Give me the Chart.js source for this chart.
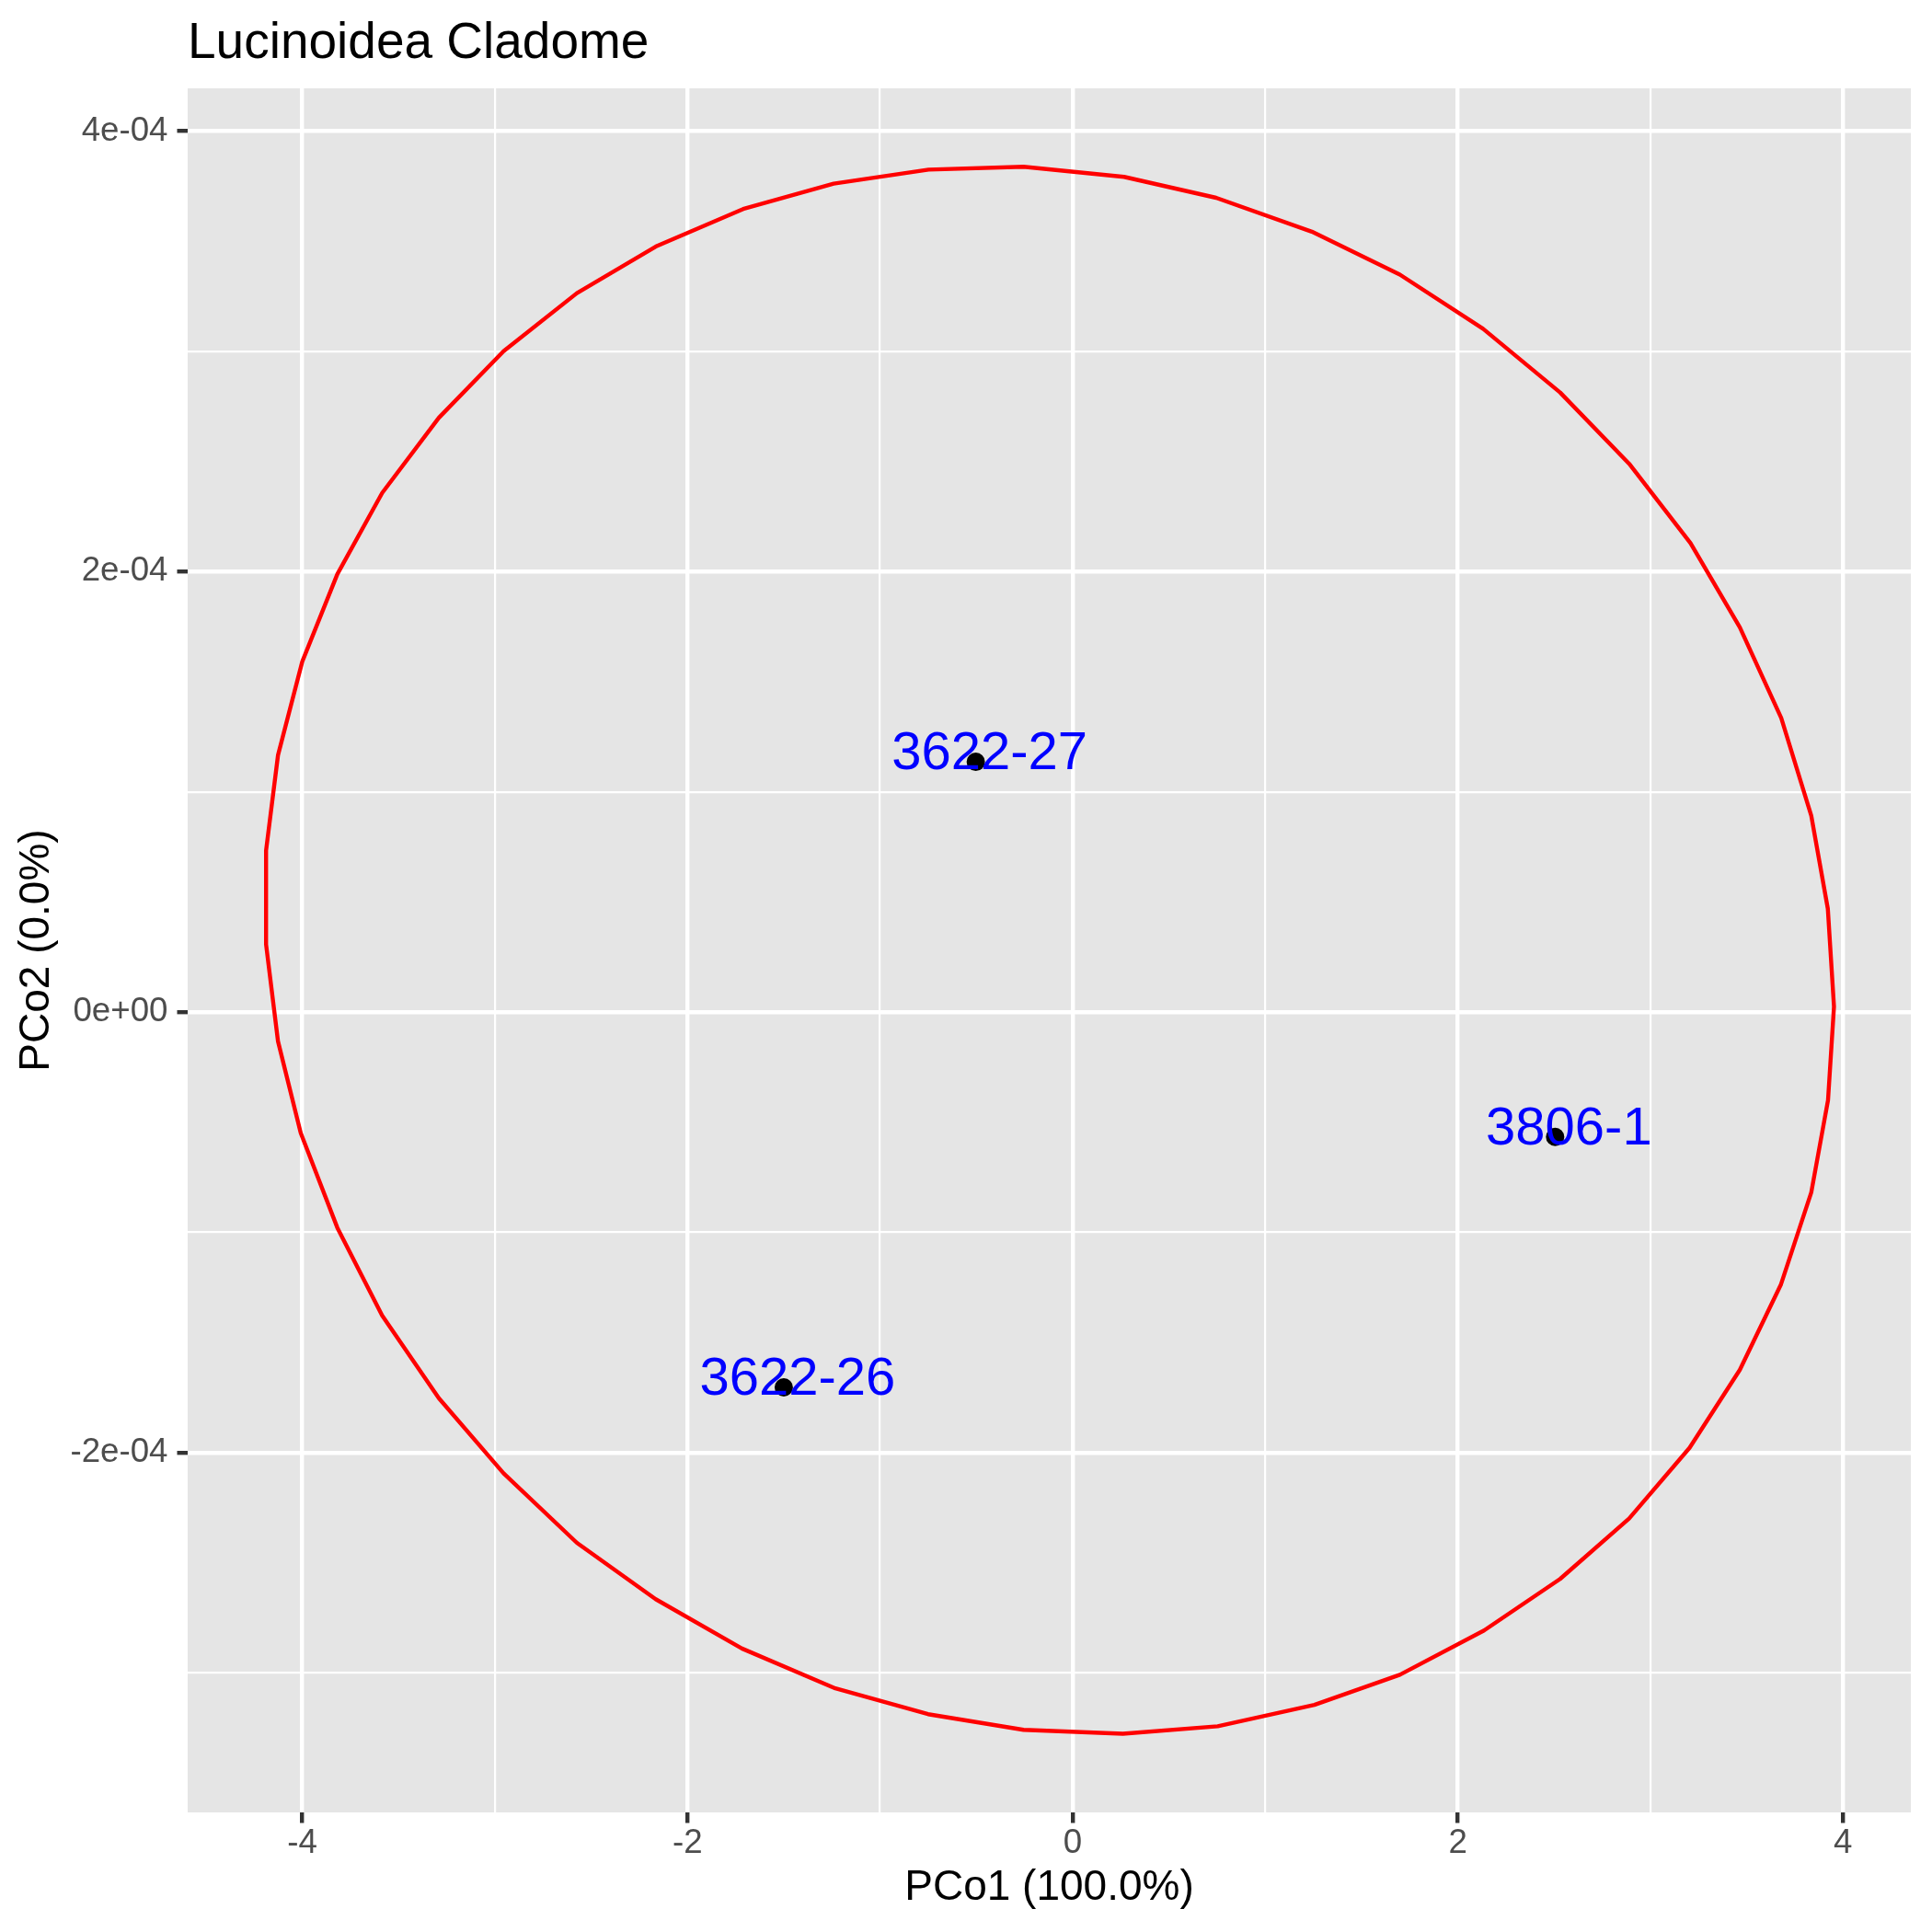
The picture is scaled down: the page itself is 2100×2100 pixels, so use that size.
<!DOCTYPE html>
<html>
<head>
<meta charset="utf-8">
<title>Lucinoidea Cladome</title>
<script src="https://cdn.jsdelivr.net/npm/chart.js@4.4.1/dist/chart.umd.min.js"></script>
<style>
  html, body { margin: 0; padding: 0; background: #ffffff; }
  #wrap { width: 2100px; height: 2100px; }
</style>
</head>
<body>
<div id="wrap"><canvas id="pcoa" width="2100" height="2100"></canvas></div>
<script>
// samples and their PCoA coordinates
const sampleNames = ["3622-27", "3806-1", "3622-26"];
const pco1 = [-0.503, 2.505, -1.500];
const pco2 = [1.136e-4, -0.567e-4, -1.704e-4];

// 95% ellipse outline (51 vertices)
const ellipseX = [
  0.267, -0.255, -0.748, -1.241, -1.711, -2.157, -2.574, -2.955, -3.291, -3.585,
  -3.818, -4.000, -4.126, -4.188, -4.188, -4.126, -4.008, -3.818, -3.585, -3.291,
  -2.955, -2.574, -2.165, -1.717, -1.232, -0.751, -0.255, 0.261, 0.753, 1.255,
  1.699, 2.136, 2.531, 2.889, 3.203, 3.464, 3.678, 3.835, 3.922, 3.953,
  3.921, 3.835, 3.679, 3.464, 3.208, 2.889, 2.531, 2.131, 1.699, 1.242, 0.745,
];
const ellipseY = [
  3.792e-4, 3.838e-4, 3.825e-4, 3.761e-4, 3.646e-4, 3.479e-4, 3.264e-4, 3.000e-4, 2.698e-4, 2.357e-4,
  1.988e-4, 1.591e-4, 1.166e-4, 0.733e-4, 0.307e-4, -0.133e-4, -0.549e-4, -0.979e-4, -1.378e-4, -1.753e-4,
  -2.094e-4, -2.410e-4, -2.666e-4, -2.890e-4, -3.071e-4, -3.188e-4, -3.259e-4, -3.277e-4, -3.243e-4, -3.146e-4,
  -3.009e-4, -2.808e-4, -2.574e-4, -2.300e-4, -1.979e-4, -1.625e-4, -1.236e-4, -0.819e-4, -0.400e-4, 0.025e-4,
  0.469e-4, 0.891e-4, 1.335e-4, 1.747e-4, 2.129e-4, 2.490e-4, 2.813e-4, 3.102e-4, 3.348e-4, 3.543e-4, 3.697e-4,
];

const xTickValues = [-4, -2, 0, 2, 4];
const xTickLabels = ["-4", "-2", "0", "2", "4"];
const yTickValues = [-2e-4, 0, 2e-4, 4e-4];
const yTickLabels = ["-2e-04", "0e+00", "2e-04", "4e-04"];

const FONT = '"Liberation Sans", Arial, Helvetica, sans-serif';

function majorIndex(value, values, tol) {
  return values.findIndex((v) => Math.abs(v - value) < tol);
}

const ellipsePoints = ellipseX.map((x, i) => ({ x: x, y: ellipseY[i] }));
ellipsePoints.push({ x: ellipseX[0], y: ellipseY[0] });

const samplePoints = pco1.map((x, i) => ({ x: x, y: pco2[i] }));

const panelBackground = {
  id: "panelBackground",
  beforeDraw(chart) {
    const { ctx, chartArea } = chart;
    ctx.save();
    ctx.fillStyle = "#ffffff";
    ctx.fillRect(0, 0, chart.width, chart.height);
    ctx.fillStyle = "#E5E5E5";
    ctx.fillRect(chartArea.left, chartArea.top,
      chartArea.right - chartArea.left, chartArea.bottom - chartArea.top);
    ctx.restore();
  },
};

const plotTitle = {
  id: "plotTitle",
  afterDraw(chart) {
    const ctx = chart.ctx;
    ctx.save();
    ctx.font = "55px " + FONT;
    ctx.fillStyle = "#000000";
    ctx.textAlign = "left";
    ctx.textBaseline = "alphabetic";
    ctx.fillText("Lucinoidea Cladome", chart.chartArea.left, 63);
    ctx.restore();
  },
};

const pointLabels = {
  id: "pointLabels",
  afterDatasetsDraw(chart) {
    const meta = chart.getDatasetMeta(1);
    const ctx = chart.ctx;
    ctx.save();
    ctx.font = "58px " + FONT;
    ctx.fillStyle = "#0000FF";
    ctx.textAlign = "center";
    ctx.textBaseline = "alphabetic";
    meta.data.forEach((pt, i) => {
      ctx.fillText(sampleNames[i], pt.x + 15, pt.y + 8);
    });
    ctx.restore();
  },
};

new Chart(document.getElementById("pcoa"), {
  type: "scatter",
  data: {
    datasets: [
      {
        label: "ellipse",
        data: ellipsePoints,
        showLine: true,
        borderColor: "#FF0000",
        borderWidth: 4.4,
        borderJoinStyle: "round",
        borderCapStyle: "round",
        pointRadius: 0,
        fill: false,
        tension: 0,
      },
      {
        label: "samples",
        data: samplePoints,
        showLine: false,
        pointRadius: 10,
        pointBackgroundColor: "#000000",
        pointBorderWidth: 0,
      },
    ],
  },
  options: {
    responsive: false,
    devicePixelRatio: 1,
    animation: false,
    layout: { padding: { top: 96, right: 23, bottom: 0, left: 0 } },
    plugins: {
      legend: { display: false },
      tooltip: { enabled: false },
    },
    scales: {
      x: {
        type: "linear",
        min: -4.595,
        max: 4.352,
        afterFit: (scale) => { scale.height = 130; },
        border: { display: false },
        grid: {
          color: "#ffffff",
          lineWidth: (c) => (majorIndex(c.tick.value, xTickValues, 1e-6) >= 0 ? 4.4 : 2.2),
          tickLength: 11.5,
          tickWidth: 4.4,
          tickColor: (c) => (majorIndex(c.tick.value, xTickValues, 1e-6) >= 0 ? "#333333" : "rgba(0,0,0,0)"),
        },
        ticks: {
          stepSize: 1,
          includeBounds: false,
          autoSkip: false,
          maxRotation: 0,
          padding: 4,
          color: "#4D4D4D",
          font: { family: FONT, size: 36.7, lineHeight: 1 },
          callback: (value) => {
            const i = majorIndex(value, xTickValues, 1e-6);
            return i >= 0 ? xTickLabels[i] : "";
          },
        },
        title: {
          display: true,
          text: "PCo1 (100.0%)",
          color: "#000000",
          font: { family: FONT, size: 46, lineHeight: 1.2 },
          padding: { top: 0, bottom: 20 },
        },
      },
      y: {
        type: "linear",
        min: -3.634e-4,
        max: 4.194e-4,
        afterFit: (scale) => { scale.width = 204; },
        border: { display: false },
        grid: {
          color: "#ffffff",
          lineWidth: (c) => (majorIndex(c.tick.value, yTickValues, 1e-9) >= 0 ? 4.4 : 2.2),
          tickLength: 11.5,
          tickWidth: 4.4,
          tickColor: (c) => (majorIndex(c.tick.value, yTickValues, 1e-9) >= 0 ? "#333333" : "rgba(0,0,0,0)"),
        },
        ticks: {
          stepSize: 1e-4,
          includeBounds: false,
          autoSkip: false,
          padding: 10,
          color: "#4D4D4D",
          font: { family: FONT, size: 36.7, lineHeight: 1 },
          callback: (value) => {
            const i = majorIndex(value, yTickValues, 1e-9);
            return i >= 0 ? yTickLabels[i] : "";
          },
        },
        title: {
          display: true,
          text: "PCo2 (0.0%)",
          color: "#000000",
          font: { family: FONT, size: 46, lineHeight: 1.2 },
          padding: { top: 13, bottom: 0 },
        },
      },
    },
  },
  plugins: [panelBackground, pointLabels, plotTitle],
});
</script>
</body>
</html>
